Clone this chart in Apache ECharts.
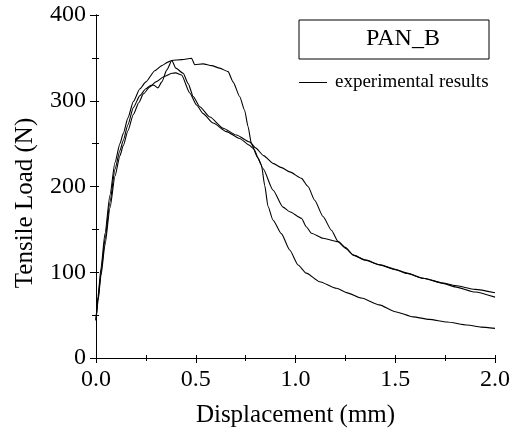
<!DOCTYPE html>
<html>
<head>
<meta charset="utf-8">
<script src="https://cdn.jsdelivr.net/npm/echarts@6/dist/echarts.min.js"></script>
<style>
  html, body { margin: 0; padding: 0; background: #fff; }
  #chart { width: 520px; height: 437px; }
</style>
</head>
<body>
<div id="chart"></div>
<script>
// tick labels
const xTicks = [0, 0.5, 1.0, 1.5, 2.0];
const yTicks = [0, 100, 200, 300, 400];

// three test curves, [displacement mm, load N]
const specimen1 = [
  [0, 44], [0.01, 72], [0.025, 105], [0.045, 145], [0.07, 190], [0.095, 228],
  [0.12, 250], [0.137, 262], [0.16, 280], [0.187, 299], [0.22, 314], [0.25, 322],
  [0.295, 335], [0.33, 341], [0.36, 345], [0.38, 347], [0.43, 348], [0.479, 349.5],
  [0.495, 342], [0.537, 343], [0.58, 341], [0.62, 338], [0.662, 334], [0.687, 322],
  [0.72, 305], [0.745, 289], [0.762, 270], [0.779, 250], [0.796, 242], [0.812, 233],
  [0.829, 225], [0.846, 201], [0.862, 177], [0.887, 161], [0.929, 145], [0.971, 126],
  [1.013, 108.5], [1.054, 99], [1.121, 89], [1.205, 81.3], [1.26, 76], [1.33, 70],
  [1.42, 62], [1.5, 54], [1.59, 48], [1.67, 45], [1.76, 42], [1.86, 38.5],
  [1.93, 36], [2.0, 34.5]
];
const specimen2 = [
  [0, 44], [0.01, 68], [0.025, 100], [0.045, 138], [0.07, 182], [0.095, 220],
  [0.12, 242], [0.137, 254], [0.16, 272], [0.187, 292], [0.22, 306], [0.25, 314],
  [0.275, 318], [0.29, 318], [0.31, 315], [0.33, 322], [0.355, 336], [0.38, 347],
  [0.4, 338], [0.437, 332], [0.462, 320], [0.487, 305], [0.52, 293], [0.571, 281],
  [0.637, 268], [0.704, 260], [0.77, 252], [0.8, 245], [0.84, 236], [0.887, 227],
  [0.93, 222], [0.971, 217], [1.03, 209.5], [1.063, 200], [1.096, 184], [1.138, 165],
  [1.18, 149], [1.213, 136], [1.25, 129], [1.29, 120], [1.35, 114.5], [1.42, 109],
  [1.5, 103.5], [1.56, 98.5], [1.64, 93], [1.74, 87.5], [1.8, 84.5], [1.9, 80],
  [2.0, 76]
];
const specimen3 = [
  [0, 44], [0.01, 66], [0.025, 96], [0.045, 132], [0.07, 175], [0.095, 212],
  [0.12, 236], [0.137, 248], [0.16, 265], [0.187, 284], [0.215, 298], [0.237, 308],
  [0.27, 316], [0.3, 322], [0.34, 328], [0.38, 332], [0.4, 332.5], [0.429, 330],
  [0.47, 309], [0.504, 295], [0.537, 285], [0.587, 274], [0.654, 264], [0.72, 256],
  [0.77, 248], [0.787, 244.6], [0.81, 234], [0.837, 221], [0.887, 196], [0.937, 176],
  [0.971, 170.6], [1.03, 163], [1.054, 153], [1.08, 145.4], [1.138, 139.6], [1.213, 135.6],
  [1.25, 128], [1.29, 120], [1.35, 114], [1.42, 108.5], [1.5, 103], [1.56, 99],
  [1.64, 93], [1.74, 87], [1.8, 83], [1.9, 77], [2.0, 71]
];

const FONT = "'Liberation Serif', 'Times New Roman', serif";
const black = '#000';

const chart = echarts.init(document.getElementById('chart'));

const mirrorAxis = {
  axisLine: { show: true, lineStyle: { color: black, width: 1 } },
  axisTick: { show: true, inside: false, length: 3, lineStyle: { color: black } },
  minorTick: { show: true, splitNumber: 2, length: 3, lineStyle: { color: black } },
  axisLabel: { show: false },
  splitLine: { show: false }
};

chart.setOption({
  animation: false,
  textStyle: { fontFamily: FONT, color: black },
  grid: { left: 96, right: 25, top: 15, bottom: 79 },
  legend: {
    data: ['experimental results'],
    left: 299,
    top: 73,
    padding: 0,
    icon: 'rect',
    itemWidth: 28,
    itemHeight: 1,
    selectedMode: false,
    textStyle: { fontFamily: FONT, fontSize: 19, color: black, padding: [0, 0, 0, 3] }
  },
  xAxis: [
    {
      type: 'value',
      min: xTicks[0],
      max: xTicks[xTicks.length - 1],
      interval: 0.5,
      name: 'Displacement (mm)',
      nameLocation: 'middle',
      nameGap: 45,
      nameTextStyle: { fontFamily: FONT, fontSize: 25, color: black },
      axisLine: { show: true, lineStyle: { color: black, width: 1 } },
      axisTick: { show: true, inside: false, length: 5, lineStyle: { color: black } },
      minorTick: { show: true, splitNumber: 2, length: 3, lineStyle: { color: black } },
      axisLabel: {
        fontFamily: FONT, fontSize: 24, color: black, margin: 10,
        formatter: v => v.toFixed(1)
      },
      splitLine: { show: false }
    },
    Object.assign({ type: 'value', position: 'top', min: 0, max: 2, interval: 0.5 }, mirrorAxis)
  ],
  yAxis: [
    {
      type: 'value',
      min: yTicks[0],
      max: yTicks[yTicks.length - 1],
      interval: 100,
      axisLine: { show: true, lineStyle: { color: black, width: 1 } },
      axisTick: { show: true, inside: false, length: 6, lineStyle: { color: black } },
      minorTick: { show: true, splitNumber: 2, length: 4, lineStyle: { color: black } },
      axisLabel: { fontFamily: FONT, fontSize: 24, color: black, margin: 10 },
      splitLine: { show: false }
    },
    Object.assign({ type: 'value', position: 'right', min: 0, max: 400, interval: 100 }, mirrorAxis)
  ],
  graphic: [
    {
      type: 'text',
      x: 25,
      y: 203,
      rotation: Math.PI / 2,
      style: {
        text: 'Tensile Load (N)',
        font: '25px ' + FONT,
        fill: black,
        textAlign: 'center',
        textVerticalAlign: 'middle'
      }
    },
    {
      type: 'rect',
      shape: { x: 299, y: 20, width: 190, height: 39 },
      style: { fill: '#fff', stroke: black, lineWidth: 1 }
    },
    {
      type: 'text',
      x: 403,
      y: 39,
      style: {
        text: 'PAN_B',
        font: '24px ' + FONT,
        fill: black,
        textAlign: 'center',
        textVerticalAlign: 'middle'
      }
    }
  ],
  series: [specimen1, specimen2, specimen3].map(d => ({
    name: 'experimental results',
    type: 'line',
    data: d,
    symbol: 'none',
    showSymbol: false,
    smooth: 0.2,
    smoothMonotone: 'x',
    lineStyle: { color: black, width: 1.1 },
    itemStyle: { color: black }
  }))
});
</script>
</body>
</html>
